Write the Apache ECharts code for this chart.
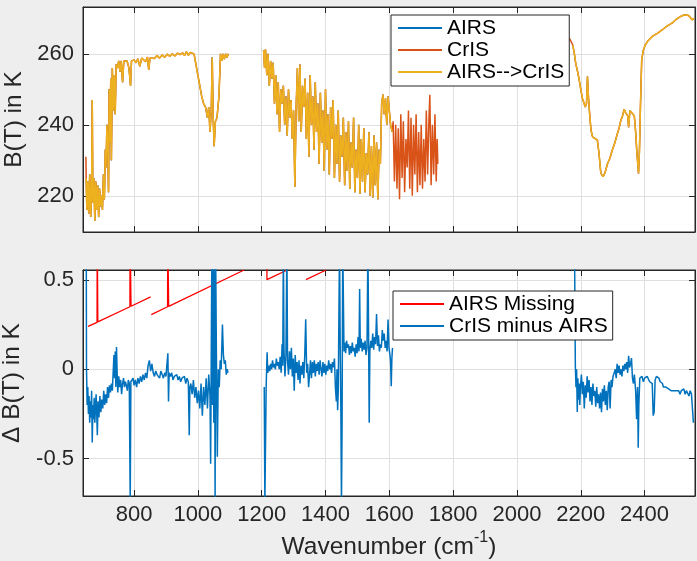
<!DOCTYPE html>
<html><head><meta charset="utf-8">
<script src="https://cdn.jsdelivr.net/npm/echarts@6/dist/echarts.min.js"></script>
<style>html,body{margin:0;padding:0;background:#eeeeee;}#c{width:697px;height:561px;}</style>
</head><body><div id="c"></div>
<script>
// ---------- ticks / labels ----------
const xTicks = [800, 1000, 1200, 1400, 1600, 1800, 2000, 2200, 2400];
const btTicks = [220, 240, 260];
const dbtTicks = [-0.5, 0, 0.5];
const topNames = ['AIRS', 'CrIS', 'AIRS-->CrIS'];
const botNames = ['AIRS Missing', 'CrIS minus AIRS'];

// ---------- top panel: brightness temperature [wavenumber, K] ----------
const convLW = [[650,225],[652,216],[655,224],[658,215],[661,226],[664,214],[667,222],[669,247],[671,218],[674,225],[677,213],[680,224],[683,216],[686,223],[689,214],[692,222],[695,217],[698,220],[701,216],[704,226],[707,219],[710,233],[712,228],[715,240],[718,232],[720,221],[722,250],[724,235],[727,253],[729,230],[732,256],[735,244],[738,254],[741,243],[744,257],[748,256],[752,258],[756,255],[760,258],[764,252],[768,258],[772,257.5],[778,258],[784,256],[789,251],[792,258],[796,258],[800,258.3],[806,257.5],[812,258.6],[818,256.5],[824,258.8],[830,258.9],[836,257.8],[842,259.1],[846,255.5],[850,258.8],[856,259.3],[864,258.7],[872,259.5],[880,258.8],[888,259.7],[896,259.0],[904,259.9],[912,259.3],[920,260.0],[928,259.4],[936,260.2],[944,259.8],[952,260.3],[958,259.5],[964,260.6],[970,259.6],[976,260.4],[982,260.2],[988,260],[996,256],[1004,252],[1012,248],[1018,246],[1024,245],[1030,242],[1034,245],[1038,238],[1042,244],[1045,259],[1048,242],[1051,234],[1055,241],[1060,242],[1066,248],[1071,260],[1075,258],[1079,260],[1083,258.5],[1087,260],[1091,259],[1096,260]];
const convMid = [[1206,261],[1209,256],[1212,261.3],[1216,254],[1220,260],[1224,251],[1228,258],[1232,253],[1236,257.5],[1240,246],[1244,254],[1248,243],[1252,252],[1256,238],[1260,250],[1264,246],[1268,251],[1272,240],[1276,248],[1280,237],[1284,250],[1288,242],[1292,247],[1296,236],[1300,244],[1304,222.5],[1308,245],[1312,256],[1316,241],[1320,257],[1324,238],[1328,251],[1332,245],[1336,253],[1340,236],[1344,249],[1348,231],[1352,254],[1356,240],[1360,248],[1364,233],[1368,252],[1372,238],[1376,246],[1380,229],[1384,249],[1388,235],[1392,244],[1396,227],[1400,250],[1404,233],[1408,243],[1412,226],[1416,245],[1420,236],[1424,247],[1428,225],[1432,240],[1436,229],[1440,244],[1444,224],[1448,237],[1452,231],[1456,242],[1460,223],[1464,238],[1468,227],[1472,241],[1476,222],[1480,235],[1484,228],[1488,242],[1492,221],[1496,233],[1500,225],[1504,240],[1508,220.5],[1512,236],[1516,224],[1520,239],[1524,221],[1528,232],[1532,226],[1536,238],[1540,220],[1544,234],[1548,219.5],[1552,237],[1556,223],[1560,235],[1564,219],[1568,233],[1572,229],[1576,246],[1580,248.5],[1584,243],[1588,247.5],[1592,240],[1596,248],[1600,244],[1604,240],[1609,238]];
const crisOnly = [[1612,241],[1616,224],[1620,240],[1624,222],[1628,239],[1632,219],[1636,243],[1640,225],[1644,241],[1648,221],[1652,236],[1656,228],[1660,244],[1664,222],[1668,242],[1672,220],[1676,240],[1680,226],[1684,243],[1688,221],[1692,238],[1696,223],[1700,240],[1704,222],[1708,236],[1712,224],[1716,244],[1720,226],[1724,241],[1727,248.5],[1731,223],[1735,240],[1739,226],[1743,243],[1747,224],[1750,236],[1752,229]];
const crisLWstart = [[649,231],[650,225]];
const crisSWstart = [[2155,264.7],[2160,265.2],[2165,264.3],[2170,263.8]];
const convSW = [[2175,262.5],[2180,260],[2184,257.4],[2190,255],[2195,252.7],[2200,250],[2205,247.5],[2210,247],[2214,245],[2218,246],[2221,253.6],[2224,248],[2227,244],[2232,238.5],[2237,236.6],[2244,236.2],[2252,235.7],[2257,232],[2263,226.3],[2270,225.4],[2276,226.5],[2284,229.1],[2291,230.5],[2299,232.9],[2307,235],[2315,237.6],[2320,239],[2326,241.4],[2331,242.5],[2336,244.4],[2340,243.5],[2343,243.8],[2347,242.5],[2350,239.3],[2354,244],[2360,243.5],[2364,243],[2368,242.3],[2372,238],[2376,232],[2381,226.3],[2384,233],[2387,245],[2391,258.3],[2396,261],[2402,262.5],[2410,263.6],[2424,264.9],[2440,265.8],[2456,266.8],[2470,267.8],[2487,268.7],[2500,269.8],[2512,270.5],[2525,271],[2538,270.8],[2549,269.6],[2555,270]];

// ---------- bottom panel: difference [wavenumber, K] ----------
const missing1 = [[656,0.24],[684,0.263],[684.5,0.8],[686,0.8],[686.5,0.265],[787,0.35],[787.5,0.8],[790,0.8],[790.5,0.353],[852,0.405]];
const missing2 = [[854,0.306],[905,0.35],[905.5,0.8],[908,0.8],[908.5,0.352],[1145,0.556]];
const missing3 = [[1216,0.8],[1216.5,0.502],[1280,0.556]];
const missing4 = [[1339,0.502],[1402,0.556]];
const diffLW = [[650,0.9],[651,0.0],[653,-0.2],[655,-0.1],[657,-0.25],[659,-0.15],[661,-0.3],[663,-0.18],[665,-0.27],[667,-0.12],[669,-0.41],[671,-0.2],[673,-0.28],[675,-0.16],[677,-0.3],[679,-0.22],[681,-0.14],[683,-0.25],[685,-0.37],[687,-0.18],[690,-0.27],[693,-0.15],[696,-0.24],[699,-0.17],[702,-0.22],[705,-0.12],[708,-0.2],[711,-0.14],[714,-0.19],[717,-0.1],[720,-0.16],[723,-0.09],[726,-0.13],[729,-0.08],[732,-0.12],[735,0.0],[737,0.08],[739,-0.05],[741,0.1],[743,-0.1],[745,0.125],[747,-0.02],[749,-0.13],[752,-0.04],[755,-0.1],[758,-0.06],[761,-0.14],[764,-0.08],[767,-0.05],[770,-0.1],[773,-0.07],[776,-0.09],[779,-0.12],[782,-0.06],[785,-0.08],[788,-0.75],[790,-0.07],[793,-0.08],[797,-0.05],[800,-0.09],[804,-0.06],[808,-0.1],[812,-0.05],[816,-0.08],[820,-0.04],[824,-0.07],[828,-0.03],[832,-0.06],[836,-0.02],[840,-0.05],[844,0.02],[848,0.05],[852,-0.01],[856,0.03],[860,-0.02],[864,-0.04],[868,-0.01],[872,-0.03],[876,-0.02],[880,-0.05],[884,-0.01],[888,-0.03],[892,-0.05],[896,-0.02],[900,-0.04],[904,-0.03],[906,0.09],[908,-0.18],[910,-0.02],[914,-0.04],[918,-0.02],[922,-0.06],[926,-0.04],[930,-0.05],[934,-0.03],[938,-0.06],[942,-0.04],[946,-0.07],[950,-0.05],[954,-0.06],[958,-0.04],[962,-0.08],[966,-0.05],[970,-0.07],[973,-0.37],[975,-0.1],[978,-0.08],[982,-0.14],[986,-0.06],[990,-0.16],[994,-0.1],[998,-0.19],[1002,-0.12],[1006,-0.22],[1010,-0.08],[1014,-0.26],[1018,-0.1],[1022,-0.2],[1026,-0.05],[1030,-0.22],[1034,-0.03],[1038,-0.15],[1040,-0.53],[1042,0.1],[1044,0.7],[1046,-0.2],[1048,0.7],[1050,-0.3],[1052,0.7],[1054,-0.75],[1056,0.6],[1058,0.1],[1061,-0.49],[1064,0.0],[1067,-0.1],[1070,0.05],[1073,0.0],[1077,0.25],[1080,0.08],[1083,0.03],[1086,0.05],[1089,-0.03],[1092,0.0],[1094,-0.02]];
const diffMid = [[1208,-0.1],[1210,-0.75],[1212,-0.75],[1214,-0.1],[1217,0.095],[1219,-0.02],[1222,0.02],[1225,-0.01],[1228,0.03],[1231,0.0],[1234,0.05],[1237,0.01],[1240,0.03],[1243,0.0],[1246,0.06],[1249,0.02],[1252,0.04],[1255,0.0],[1258,0.07],[1261,-0.02],[1264,0.14],[1266,0.02],[1268,0.7],[1270,0.1],[1273,-0.04],[1276,0.08],[1279,0.7],[1281,0.05],[1284,-0.03],[1287,0.1],[1290,0.0],[1293,0.12],[1296,-0.04],[1299,0.06],[1302,-0.12],[1305,0.08],[1308,-0.02],[1311,0.04],[1314,-0.06],[1317,0.05],[1320,-0.08],[1323,0.02],[1326,-0.03],[1329,0.04],[1332,-0.05],[1335,0.08],[1338,0.28],[1341,-0.02],[1344,0.03],[1347,-0.1],[1350,-0.03],[1353,0.05],[1356,-0.05],[1359,0.04],[1362,-0.02],[1365,0.05],[1368,-0.04],[1371,0.03],[1374,-0.01],[1377,0.04],[1380,-0.03],[1383,0.05],[1386,0.0],[1389,-0.04],[1392,0.04],[1395,-0.02],[1398,0.03],[1401,-0.03],[1404,0.02],[1407,-0.01],[1410,0.05],[1413,0.0],[1416,0.03],[1419,-0.02],[1422,0.04],[1425,0.01],[1428,0.06],[1431,-0.1],[1434,-0.18],[1436,0.0],[1438,-0.23],[1440,-0.12],[1442,0.3],[1444,0.7],[1446,0.15],[1448,-0.2],[1450,-0.75],[1452,-0.3],[1454,0.7],[1456,0.7],[1458,0.1],[1460,0.15],[1463,0.09],[1466,0.16],[1469,0.12],[1472,0.14],[1475,0.08],[1478,0.13],[1481,0.09],[1484,0.15],[1487,0.1],[1490,0.12],[1493,0.07],[1496,0.14],[1499,0.09],[1502,0.18],[1505,0.1],[1507,0.45],[1509,0.12],[1512,0.17],[1515,0.1],[1518,0.15],[1521,0.11],[1524,0.16],[1527,0.08],[1530,0.12],[1533,0.7],[1535,0.2],[1537,-0.3],[1539,0.1],[1542,0.16],[1545,0.12],[1548,0.2],[1551,0.11],[1554,0.18],[1557,0.14],[1560,0.31],[1563,0.13],[1566,0.19],[1569,0.1],[1572,0.14],[1575,0.12],[1578,0.22],[1581,0.16],[1584,0.2],[1587,0.12],[1590,0.16],[1593,0.1],[1596,0.278],[1599,0.12],[1602,0.08],[1604,0.04],[1606,-0.095],[1608,0.06],[1610,0.12]];
const diffSW = [[2180,0.8],[2183,0.02],[2185,-0.1],[2187,0.0],[2189,-0.24],[2191,-0.05],[2193,-0.17],[2195,-0.08],[2197,-0.2],[2199,-0.1],[2202,-0.03],[2205,-0.14],[2208,-0.07],[2211,-0.22],[2214,-0.09],[2217,-0.16],[2220,-0.04],[2223,-0.13],[2226,-0.06],[2229,-0.18],[2232,-0.1],[2235,-0.2],[2238,-0.08],[2241,-0.15],[2244,-0.12],[2247,-0.21],[2250,-0.1],[2253,-0.19],[2256,-0.14],[2259,-0.22],[2262,-0.13],[2265,-0.24],[2268,-0.11],[2271,-0.18],[2274,-0.09],[2277,-0.2],[2280,-0.12],[2283,-0.23],[2286,-0.1],[2289,-0.07],[2292,-0.22],[2295,-0.06],[2298,-0.1],[2301,-0.04],[2305,-0.02],[2308,0.0],[2311,-0.05],[2314,0.03],[2317,-0.02],[2320,0.02],[2323,-0.03],[2326,0.0],[2329,-0.04],[2332,0.02],[2335,-0.01],[2338,0.03],[2341,0.0],[2344,0.04],[2347,-0.02],[2350,0.075],[2353,0.01],[2356,0.03],[2359,0.063],[2362,-0.05],[2365,-0.08],[2368,-0.03],[2372,-0.12],[2375,-0.28],[2378,-0.1],[2380,-0.44],[2382,-0.2],[2385,-0.05],[2388,-0.06],[2392,-0.04],[2396,-0.07],[2400,-0.05],[2404,-0.06],[2408,-0.04],[2412,-0.05],[2416,-0.07],[2420,-0.06],[2424,-0.08],[2427,-0.26],[2430,-0.24],[2433,-0.06],[2437,-0.04],[2441,-0.03],[2445,-0.05],[2449,-0.07],[2453,-0.06],[2456,-0.08],[2459,-0.1],[2463,-0.09],[2467,-0.1],[2471,-0.1],[2475,-0.11],[2479,-0.1],[2483,-0.12],[2487,-0.11],[2491,-0.12],[2495,-0.11],[2499,-0.12],[2503,-0.13],[2507,-0.12],[2511,-0.14],[2515,-0.12],[2519,-0.13],[2523,-0.11],[2527,-0.14],[2531,-0.12],[2535,-0.13],[2539,-0.15],[2543,-0.12],[2547,-0.14],[2551,-0.13],[2553,-0.3]];

// ---------- helpers ----------
function gapJoin(...segs) {
  const out = [];
  segs.forEach((s, i) => {
    if (i > 0) out.push([(out[out.length - 1][0] + s[0][0]) / 2, '-']);
    out.push(...s);
  });
  return out;
}
const FONT = '"Liberation Sans", Arial, Helvetica, sans-serif';
const INK = '#262626';
const GRIDC = '#dfdfdf';
const X_MIN = 640, X_MAX = 2558;

function xAx(gridIndex, position, showLabels, extra) {
  return Object.assign({
    type: 'value', gridIndex, position, min: X_MIN, max: X_MAX,
    axisLine: { show: true, onZero: false, lineStyle: { color: INK, width: 1 } },
    axisTick: { show: true, inside: true, length: 6, customValues: xTicks, lineStyle: { color: INK } },
    axisLabel: { show: showLabels, customValues: xTicks, margin: 8, color: INK, fontSize: 22, fontFamily: FONT,
                 formatter: v => String(v) },
    splitLine: { show: position === 'bottom', lineStyle: { color: GRIDC, width: 1 } }
  }, extra || {});
}
function yAx(gridIndex, position, min, max, ticks, showLabels, extra) {
  return Object.assign({
    type: 'value', gridIndex, position, min, max,
    axisLine: { show: true, onZero: false, lineStyle: { color: INK, width: 1 } },
    axisTick: { show: true, inside: true, length: 6, customValues: ticks, lineStyle: { color: INK } },
    axisLabel: { show: showLabels, customValues: ticks, margin: 9, color: INK, fontSize: 22, fontFamily: FONT,
                 formatter: v => String(v) },
    splitLine: { show: position === 'left', lineStyle: { color: GRIDC, width: 1 } }
  }, extra || {});
}
function lineSeries(name, data, color, xi, yi, width) {
  return {
    name, type: 'line', data, xAxisIndex: xi, yAxisIndex: yi,
    showSymbol: false, symbol: 'none', connectNulls: false, clip: true, animation: false,
    lineStyle: { color, width: width }, itemStyle: { color }
  };
}

const yNameStyle = { fontSize: 24.5, color: INK, fontFamily: FONT };

const option = {
  backgroundColor: '#eeeeee',
  animation: false,
  textStyle: { fontFamily: FONT },
  grid: [
    { left: 83, right: 2, top: 7, height: 225, show: true, backgroundColor: '#ffffff', borderColor: INK, borderWidth: 1, containLabel: false, outerBoundsMode: 'none' },
    { left: 83, right: 2, top: 270, height: 226, show: true, backgroundColor: '#ffffff', borderColor: INK, borderWidth: 1, containLabel: false, outerBoundsMode: 'none' }
  ],
  xAxis: [
    xAx(0, 'bottom', false),
    xAx(0, 'top', false),
    xAx(1, 'bottom', true, {
      name: '{a|Wavenumber (cm}{s|-1}{a|)}', nameLocation: 'middle', nameGap: 34,
      nameTextStyle: { color: INK, fontFamily: FONT, fontSize: 24.5,
        rich: { a: { fontSize: 24.5, color: INK, fontFamily: FONT, lineHeight: 34 },
                s: { fontSize: 16, color: INK, fontFamily: FONT, verticalAlign: 'top', lineHeight: 17 } } }
    }),
    xAx(1, 'top', false)
  ],
  yAxis: [
    yAx(0, 'left', 209.8, 273.2, btTicks, true, { name: 'B(T) in K', nameLocation: 'middle', nameGap: 55, nameTextStyle: yNameStyle }),
    yAx(0, 'right', 209.8, 273.2, btTicks, false),
    yAx(1, 'left', -0.71, 0.556, dbtTicks, true, { name: 'Δ B(T) in K', nameLocation: 'middle', nameGap: 55, nameTextStyle: yNameStyle }),
    yAx(1, 'right', -0.71, 0.556, dbtTicks, false)
  ],
  legend: [
    { data: topNames, orient: 'vertical', left: 391, top: 15, icon: 'rect', itemWidth: 44, itemHeight: 2, itemGap: 0,
      padding: [2, 5, 3, 7], backgroundColor: '#ffffff', borderColor: INK, borderWidth: 1, borderRadius: 0,
      textStyle: { fontSize: 21, lineHeight: 22, color: '#000000', fontFamily: FONT } },
    { data: botNames, orient: 'vertical', left: 393, top: 291, icon: 'rect', itemWidth: 44, itemHeight: 2, itemGap: 0,
      padding: [2, 5, 3, 7], backgroundColor: '#ffffff', borderColor: INK, borderWidth: 1, borderRadius: 0,
      textStyle: { fontSize: 21, lineHeight: 22, color: '#000000', fontFamily: FONT } }
  ],
  series: [
    lineSeries('AIRS', gapJoin(convLW, convMid, convSW), '#0072BD', 0, 0, 1),
    lineSeries('CrIS', gapJoin(crisLWstart.concat(convLW.slice(1)), convMid.concat(crisOnly), crisSWstart.concat(convSW)), '#D95319', 0, 0, 1.5),
    lineSeries('AIRS-->CrIS', gapJoin(convLW, convMid, convSW), '#EDB120', 0, 0, 1.5),
    lineSeries('AIRS Missing', gapJoin(missing1, missing2, missing3, missing4), '#FF0000', 2, 2, 1.3),
    lineSeries('CrIS minus AIRS', gapJoin(diffLW, diffMid, diffSW), '#0072BD', 2, 2, 1.5)
  ]
};
const chart = echarts.init(document.getElementById('c'), null, { renderer: 'canvas' });
chart.setOption(option);
</script></body></html>
